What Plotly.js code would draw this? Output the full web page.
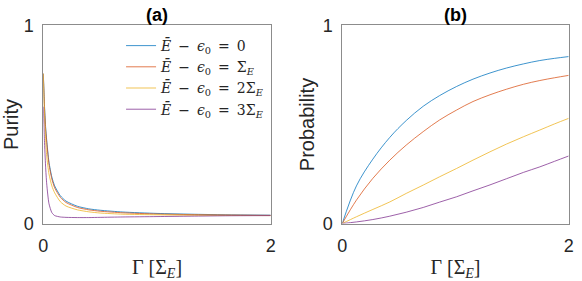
<!DOCTYPE html>
<html>
<head>
<meta charset="utf-8">
<script src="https://cdn.plot.ly/plotly-3.0.1.min.js"></script>
<style>html,body{margin:0;padding:0;background:#fff;}#chart{width:582px;height:281px;}</style>
</head>
<body>
<div id="chart"></div>
<script>
// ---- data ----
const gammaPurity = [0, 0.005, 0.01, 0.02, 0.03, 0.05, 0.075, 0.1, 0.15, 0.2, 0.3, 0.4, 0.5, 0.7, 1.0, 1.3, 1.6, 2.0];
const purity0  = [0.757, 0.68, 0.60, 0.49, 0.42, 0.31, 0.235, 0.19, 0.14, 0.113, 0.087, 0.074, 0.067, 0.058, 0.051, 0.047, 0.044, 0.042];
const purity1  = [0.757, 0.67, 0.59, 0.48, 0.41, 0.30, 0.225, 0.18, 0.132, 0.106, 0.081, 0.069, 0.062, 0.054, 0.048, 0.045, 0.043, 0.041];
const purity2  = [0.757, 0.64, 0.55, 0.43, 0.34, 0.25, 0.19, 0.155, 0.11, 0.088, 0.069, 0.059, 0.053, 0.047, 0.044, 0.042, 0.041, 0.040];
const purity3  = [0.59, 0.50, 0.42, 0.29, 0.20, 0.10, 0.055, 0.04, 0.033, 0.031, 0.030, 0.030, 0.031, 0.033, 0.035, 0.037, 0.039, 0.040];

const gammaProb = [0, 0.125, 0.27, 0.42, 0.565, 0.715, 0.86, 1.01, 1.155, 1.305, 1.45, 1.6, 1.745, 1.875, 2.0];
const prob0 = [0, 0.19, 0.325, 0.435, 0.52, 0.592, 0.646, 0.692, 0.729, 0.76, 0.785, 0.806, 0.823, 0.834, 0.843];
const prob1 = [0, 0.118, 0.228, 0.32, 0.396, 0.464, 0.523, 0.573, 0.616, 0.65, 0.678, 0.703, 0.722, 0.736, 0.748];
const prob2 = [0, 0.034, 0.071, 0.109, 0.152, 0.194, 0.236, 0.278, 0.32, 0.362, 0.401, 0.438, 0.472, 0.503, 0.531];
const prob3 = [0, 0.008, 0.02, 0.037, 0.057, 0.081, 0.108, 0.135, 0.165, 0.195, 0.226, 0.258, 0.286, 0.314, 0.341];

const S = '\u2002';
const seriesNames = [
  '<i>E\u0304</i>' + S + '\u2212' + S + '<i>\u03f5</i><sub>0</sub>' + S + '=' + S + '0',
  '<i>E\u0304</i>' + S + '\u2212' + S + '<i>\u03f5</i><sub>0</sub>' + S + '=' + S + '\u03a3<sub><i>E</i></sub>',
  '<i>E\u0304</i>' + S + '\u2212' + S + '<i>\u03f5</i><sub>0</sub>' + S + '=' + S + '2\u03a3<sub><i>E</i></sub>',
  '<i>E\u0304</i>' + S + '\u2212' + S + '<i>\u03f5</i><sub>0</sub>' + S + '=' + S + '3\u03a3<sub><i>E</i></sub>'
];
const xTickVals = [0, 2];
const yTickVals = [0, 1];
const panelTitles = ['(a)', '(b)'];
const yTitles = ['Purity', 'Probability'];
const xTitle = '\u0393 [\u03a3<sub><i>E</i></sub>]';

// ---- styles ----
const colors = ['#0072BD', '#D95319', '#EDB120', '#7E2F8E'];
const purity = [purity0, purity1, purity2, purity3];
const prob = [prob0, prob1, prob2, prob3];

const traces = [];
for (let i = 0; i < 4; i++) {
  traces.push({x: gammaPurity, y: purity[i], type: 'scatter', mode: 'lines', name: seriesNames[i],
    line: {color: colors[i], width: 0.9, shape: 'spline', smoothing: 0.6}, opacity: 0.85, xaxis: 'x', yaxis: 'y', showlegend: true});
}
for (let i = 0; i < 4; i++) {
  traces.push({x: gammaProb, y: prob[i], type: 'scatter', mode: 'lines', name: seriesNames[i],
    line: {color: colors[i], width: 0.9, shape: 'spline', smoothing: 1}, opacity: 0.85, xaxis: 'x2', yaxis: 'y2', showlegend: false});
}

const sans = 'Liberation Sans, Arial, sans-serif';
const axFont = {family: sans, size: 18, color: '#262626'};
const serif = {family: 'Liberation Serif, DejaVu Serif, serif', size: 20, color: '#262626'};
function xa(domain, anchor) {
  return {domain: domain, anchor: anchor, range: [0, 2], tickvals: xTickVals, ticktext: xTickVals.map(String),
    ticks: 'inside', ticklen: 3, tickcolor: '#808080', showgrid: false, zeroline: false,
    showline: true, mirror: true, linecolor: '#8c8c8c', linewidth: 1, tickfont: axFont, ticklabelstandoff: 6,
    title: {text: xTitle, font: serif, standoff: 4}};
}
function ya(domain, anchor, title) {
  return {domain: domain, anchor: anchor, range: [0, 1], tickvals: yTickVals, ticktext: yTickVals.map(String),
    ticks: 'inside', ticklen: 3, tickcolor: '#808080', showgrid: false, zeroline: false,
    showline: true, mirror: true, linecolor: '#8c8c8c', linewidth: 1, tickfont: axFont, ticklabelstandoff: 5,
    title: {text: title, font: {family: sans, size: 20, color: '#262626'}, standoff: 2}};
}
const yDom = [0.2046, 0.9093];
const layout = {
  width: 582, height: 281,
  margin: {l: 0, r: 0, t: 0, b: 0},
  paper_bgcolor: '#fff', plot_bgcolor: '#fff',
  showlegend: true,
  xaxis: xa([0.0744, 0.4651], 'y'),
  yaxis: ya(yDom, 'x', yTitles[0]),
  xaxis2: xa([0.5881, 0.9771], 'y2'),
  yaxis2: ya(yDom, 'x2', yTitles[1]),
  legend: {x: 0.208, y: 0.8932, xanchor: 'left', yanchor: 'top', bgcolor: 'rgba(0,0,0,0)',
    font: {family: 'DejaVu Serif, Liberation Serif, serif', size: 14, color: '#262626'},
    itemwidth: 30, tracegroupgap: 0},
  annotations: [
    {text: '<b>' + panelTitles[0] + '</b>', x: 0.2698, y: 1 - 15 / 281, xref: 'paper', yref: 'paper',
      xanchor: 'center', yanchor: 'middle', showarrow: false, font: {family: sans, size: 18, color: '#000'}},
    {text: '<b>' + panelTitles[1] + '</b>', x: 0.7826, y: 1 - 15 / 281, xref: 'paper', yref: 'paper',
      xanchor: 'center', yanchor: 'middle', showarrow: false, font: {family: sans, size: 18, color: '#000'}}
  ]
};
Plotly.newPlot('chart', traces, layout, {staticPlot: true, displayModeBar: false});
</script>
</body>
</html>
